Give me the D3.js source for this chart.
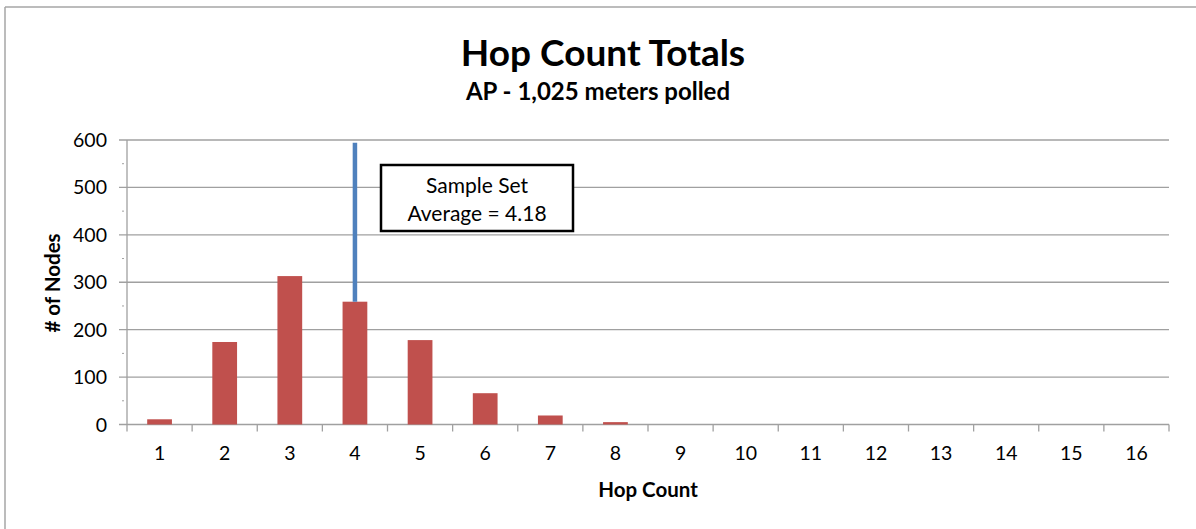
<!DOCTYPE html>
<html>
<head>
<meta charset="utf-8">
<script src="https://cdn.jsdelivr.net/npm/d3@7"></script>
<style>
    body { margin: 0; background: #fff; }
    text { font-family: Lato, "Open Sans", sans-serif; fill: #000; }
</style>
</head>
<body>
<div id="chart"></div>
<script>
(function () {

    let hops = ['1', '2', '3', '4', '5', '6', '7', '8', '9', '10', '11', '12', '13', '14', '15', '16'];
    let nodes = [11, 174, 313, 259, 178, 66, 19, 5, 0, 0, 0, 0, 0, 0, 0, 0];
    let yTicks = [0, 100, 200, 300, 400, 500, 600];
    let avgHop = '4';
    let avgTop = 594;
    let avgLabel = ['Sample Set', 'Average = 4.18'];

    let width = 1196, height = 529;
    let left = 127, right = 1169, top = 140, bottom = 424.5;

    let svg = d3.select('#chart')
        .append('svg')
        .attr('width', width)
        .attr('height', height);

    // chart frame (only top and left edges show)
    svg.append('line')
        .attr('x1', 5).attr('x2', width).attr('y1', 7).attr('y2', 7)
        .attr('stroke', '#a6a6a6').attr('stroke-width', 1.5);
    svg.append('line')
        .attr('x1', 5).attr('x2', 5).attr('y1', 7).attr('y2', height)
        .attr('stroke', '#a6a6a6').attr('stroke-width', 1.5);

    let x = d3.scaleBand()
        .domain(hops)
        .range([left, right])
        .paddingInner(0.62)
        .paddingOuter(0.31);

    let y = d3.scaleLinear()
        .domain([0, 600])
        .range([bottom, top]);

    // gridlines
    svg.append('g')
        .selectAll('line')
        .data(yTicks)
        .enter()
        .append('line')
        .attr('x1', left - 8)
        .attr('x2', right)
        .attr('y1', d => y(d))
        .attr('y2', d => y(d))
        .attr('stroke', '#a0a0a0')
        .attr('stroke-width', 1.3);

    // minor ticks at the 50s
    svg.append('g')
        .selectAll('line')
        .data(d3.range(50, 600, 100))
        .enter()
        .append('line')
        .attr('x1', left - 5)
        .attr('x2', left - 3)
        .attr('y1', d => y(d))
        .attr('y2', d => y(d))
        .attr('stroke', '#a0a0a0')
        .attr('stroke-width', 1);

    // y axis line
    svg.append('line')
        .attr('x1', left).attr('x2', left).attr('y1', top).attr('y2', bottom)
        .attr('stroke', '#a0a0a0').attr('stroke-width', 1.3);

    // y labels
    svg.append('g')
        .selectAll('text')
        .data(yTicks)
        .enter()
        .append('text')
        .attr('x', 107)
        .attr('y', d => y(d) + 7)
        .attr('text-anchor', 'end')
        .attr('font-size', 19.5)
        .text(d => d);

    // x axis with band boundary ticks
    let bandStep = x.step();
    svg.append('g')
        .selectAll('line')
        .data(d3.range(hops.length + 1))
        .enter()
        .append('line')
        .attr('x1', i => left + i * bandStep)
        .attr('x2', i => left + i * bandStep)
        .attr('y1', bottom)
        .attr('y2', bottom + 7)
        .attr('stroke', '#a0a0a0')
        .attr('stroke-width', 1.3);

    svg.append('g')
        .selectAll('text')
        .data(hops)
        .enter()
        .append('text')
        .attr('x', d => x(d) + x.bandwidth() / 2)
        .attr('y', 460)
        .attr('text-anchor', 'middle')
        .attr('font-size', 19.5)
        .text(d => d);

    // bars
    svg.append('g')
        .selectAll('rect')
        .data(nodes)
        .enter()
        .append('rect')
        .attr('x', (d, i) => x(hops[i]))
        .attr('y', d => y(d))
        .attr('width', x.bandwidth())
        .attr('height', d => bottom - y(d))
        .attr('fill', '#c0504d');

    // average marker line
    let avgX = x(avgHop) + x.bandwidth() / 2;
    svg.append('line')
        .attr('x1', avgX)
        .attr('x2', avgX)
        .attr('y1', y(avgTop))
        .attr('y2', y(nodes[hops.indexOf(avgHop)]))
        .attr('stroke', '#4f81bd')
        .attr('stroke-width', 4.5);

    // annotation box
    svg.append('rect')
        .attr('x', 381)
        .attr('y', 165)
        .attr('width', 192)
        .attr('height', 66)
        .attr('fill', '#fff')
        .attr('stroke', '#000')
        .attr('stroke-width', 2.5);

    svg.append('g')
        .selectAll('text')
        .data(avgLabel)
        .enter()
        .append('text')
        .attr('x', 477)
        .attr('y', (d, i) => 193 + i * 28)
        .attr('text-anchor', 'middle')
        .attr('font-size', 21)
        .text(d => d);

    // titles
    svg.append('text')
        .attr('x', 603)
        .attr('y', 66)
        .attr('text-anchor', 'middle')
        .attr('font-size', 37)
        .attr('font-weight', 'bold')
        .text('Hop Count Totals');

    svg.append('text')
        .attr('x', 598)
        .attr('y', 100)
        .attr('text-anchor', 'middle')
        .attr('font-size', 24)
        .attr('font-weight', 'bold')
        .text('AP - 1,025 meters polled');

    svg.append('text')
        .attr('x', 648)
        .attr('y', 497)
        .attr('text-anchor', 'middle')
        .attr('font-size', 20.5)
        .attr('font-weight', 'bold')
        .text('Hop Count');

    svg.append('text')
        .attr('transform', 'translate(60, 283) rotate(-90)')
        .attr('text-anchor', 'middle')
        .attr('font-size', 20.5)
        .attr('font-weight', 'bold')
        .text('# of Nodes');

})();
</script>
</body>
</html>
